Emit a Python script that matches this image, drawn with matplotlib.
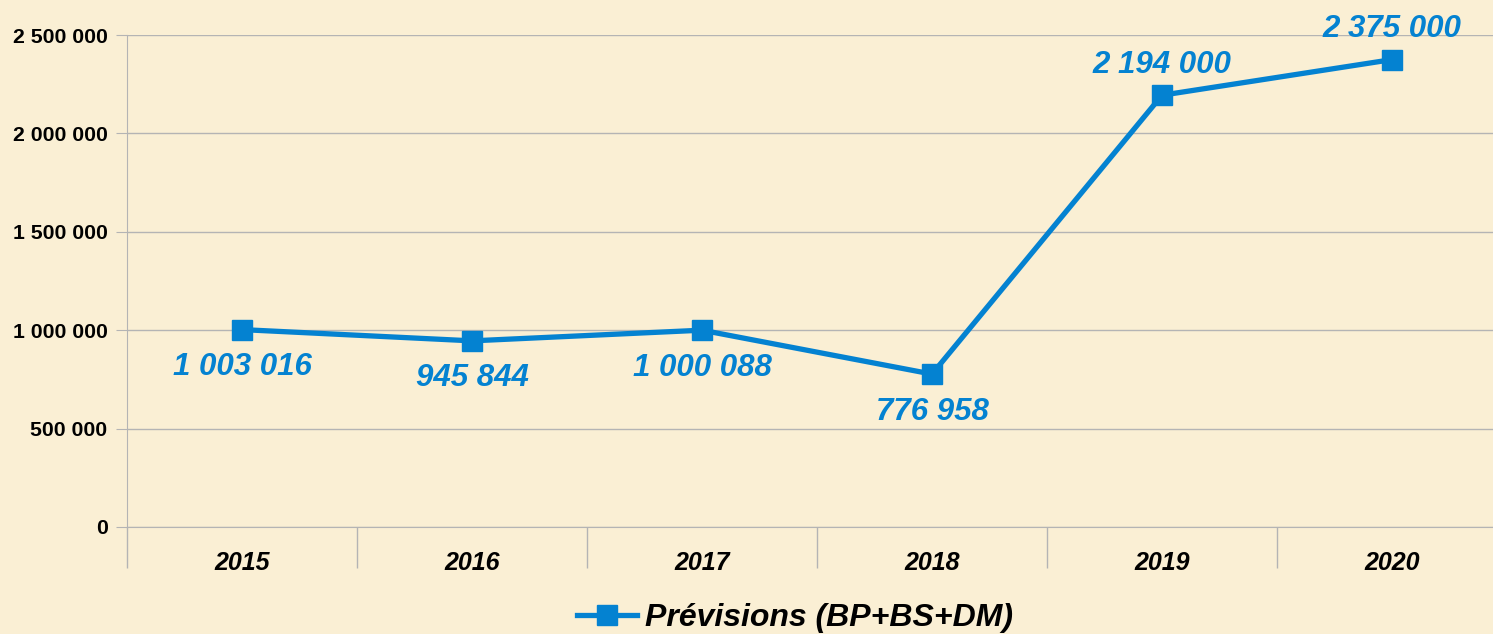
import matplotlib.pyplot as plt
from matplotlib.ticker import FuncFormatter, FixedLocator

years = ['2015', '2016', '2017', '2018', '2019', '2020']
previsions = [1003016, 945844, 1000088, 776958, 2194000, 2375000]
label_above = [False, False, False, False, True, True]

blue = '#0482d1'
grid_col = '#b4b4b4'
bg = '#faefd4'

plt.rcParams['font.family'] = ['Liberation Sans', 'DejaVu Sans']


def fmt(v, pos=None):
    return '{:,}'.format(int(v)).replace(',', ' ')


fig = plt.figure(figsize=(14.93, 6.34), dpi=100)
fig.patch.set_facecolor(bg)
ax = fig.add_axes([127 / 1493, 107 / 634, 1380 / 1493, 492 / 634])
ax.set_facecolor(bg)

x = list(range(len(years)))
line, = ax.plot(x, previsions, color=blue, lw=3.8, marker='s', ms=14,
                label='Prévisions (BP+BS+DM)', solid_joinstyle='miter', zorder=3)

# value labels: under the point for the first years, over it for the last two
for xi, v, up in zip(x, previsions, label_above):
    ax.annotate(fmt(v), (xi, v), xytext=(0, 22 if up else -27),
                textcoords='offset points', ha='center', va='center',
                color=blue, fontsize=22.5, fontweight='bold', fontstyle='italic')

ax.set_xlim(-0.5, 5.5)
ax.set_ylim(0, 2500000)
ax.set_yticks(range(0, 2500001, 500000))
ax.yaxis.set_major_formatter(FuncFormatter(fmt))
ax.grid(axis='y', color=grid_col, lw=1)
ax.set_axisbelow(True)

ax.set_xticks(x)
ax.set_xticklabels(years, fontsize=18, fontweight='bold', fontstyle='italic')
ax.xaxis.set_minor_locator(FixedLocator([i - 0.5 for i in range(len(years) + 1)]))
ax.tick_params(axis='x', which='major', length=0, pad=17)
ax.tick_params(axis='x', which='minor', length=29.5, color=grid_col, width=1)
ax.tick_params(axis='y', length=8, color=grid_col, pad=6, labelsize=15.3)
for lab in ax.get_yticklabels():
    lab.set_fontweight('bold')

for s in ['top', 'right']:
    ax.spines[s].set_visible(False)
ax.spines['left'].set_color(grid_col)
ax.spines['bottom'].set_color(grid_col)

fig.legend(loc='center', bbox_to_anchor=(795 / 1493, 16 / 634), frameon=False,
           handlelength=1.9, handletextpad=0.25, markerscale=1.05,
           prop={'size': 23, 'weight': 'bold', 'style': 'italic'})

fig.savefig('out.png', dpi=100, facecolor=bg)
